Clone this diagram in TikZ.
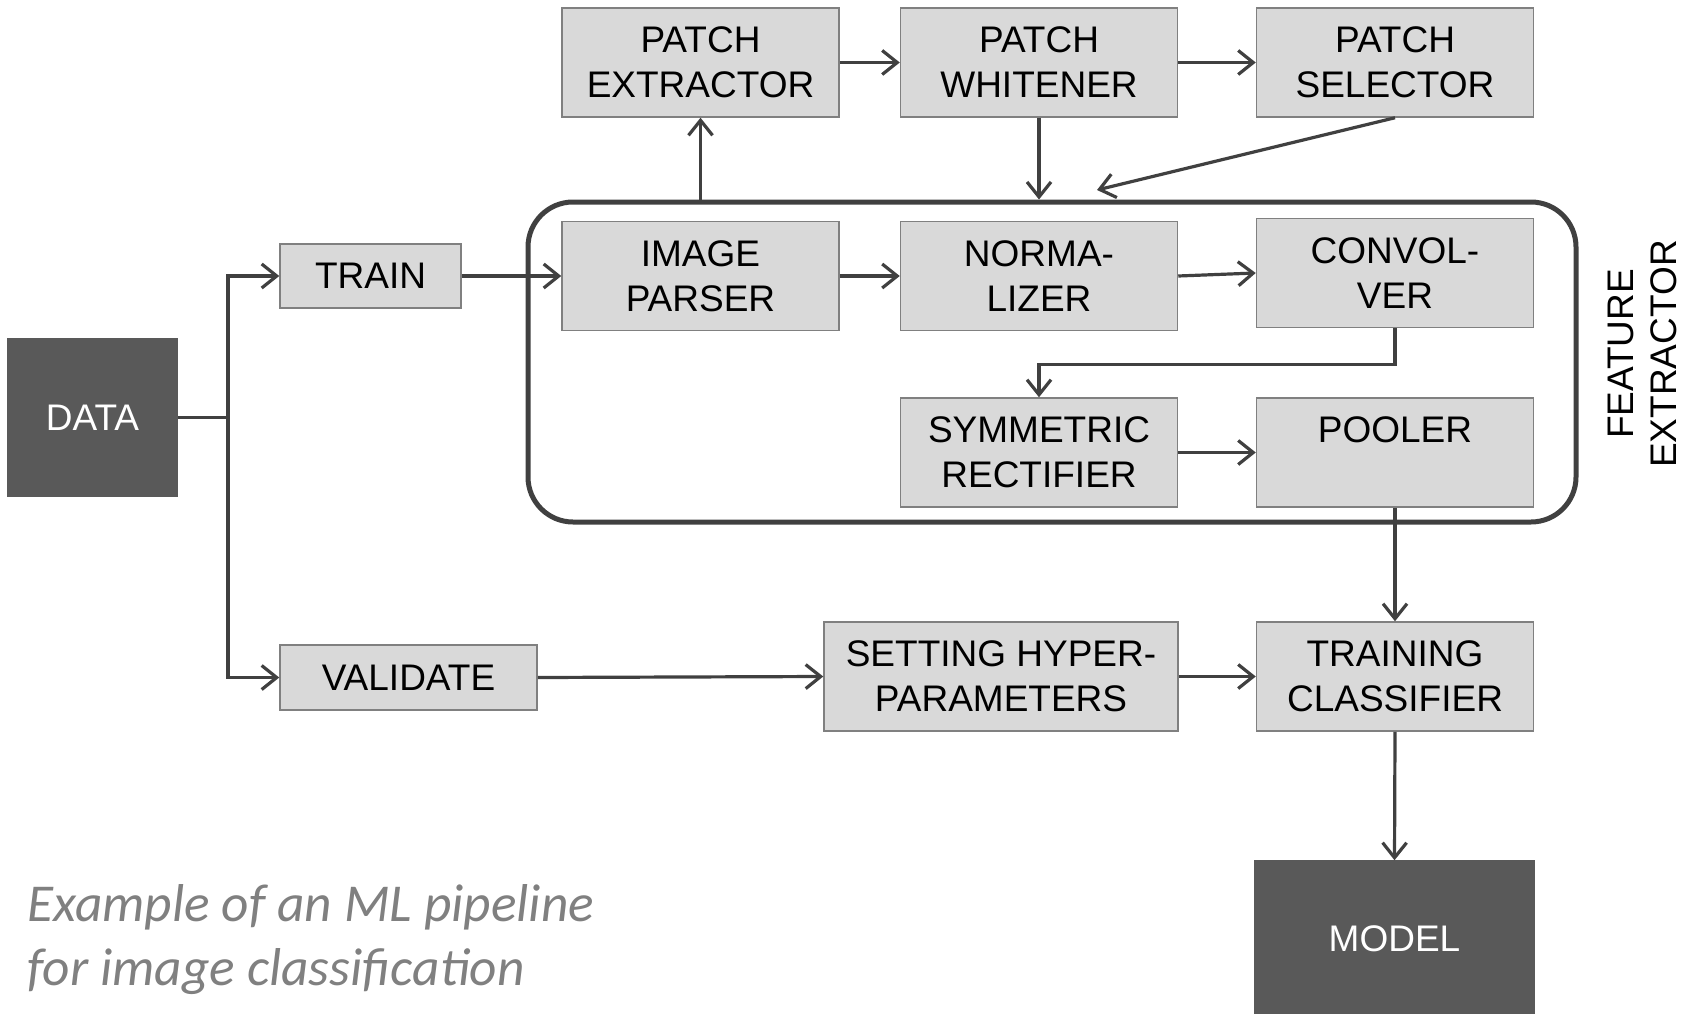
\documentclass[tikz,border=0pt]{standalone}
\usepackage{fontspec}
\setmainfont{Liberation Sans}
\newfontfamily\notefont{Carlito}
\usepackage{tikz}
\usetikzlibrary{arrows.meta, positioning}
\definecolor{boxgray}{RGB}{217,217,217}
\definecolor{edgegray}{RGB}{128,128,128}
\definecolor{darkbox}{RGB}{89,89,89}
\definecolor{wiregray}{RGB}{64,64,64}
\definecolor{notegray}{RGB}{128,128,128}

\begin{document}
\begin{tikzpicture}[
        x=1pt, y=-1pt,
        block/.style={rectangle, draw=edgegray, line width=1.5pt, fill=boxgray, align=center, inner sep=0pt, font=\fontsize{37}{45}\selectfont, minimum width=277pt, minimum height=109pt},
        dark_block/.style={block, fill=darkbox, draw=darkbox, text=white},
        group/.style={rectangle, draw=wiregray, line width=5pt, rounded corners=45pt, minimum width=1048pt, minimum height=320pt},
        line/.style={draw=wiregray, line width=3.2pt, -{Straight Barb[length=15pt, width=24pt]}},
        wire/.style={draw=wiregray, line width=3.2pt}
    ]
    \useasboundingbox (0,0) rectangle (1694,1014);

    % feature extractor
    \node[group] (fe_group) at (1052,362) {};
    \node[block] (img_parser) at (700.5,276) {IMAGE\\PARSER};
    \node[block] (normalizer) at (1039,276) {NORMA-\\LIZER};
    \node[block] (convolver) at (1395,273) {CONVOL-\\VER};
    \node[block] (rectifier) at (1039,452.5) {SYMMETRIC\\RECTIFIER};
    \node[block] (pooler) at (1395,452.5) {POOLER\\\phantom{X}};
    \node[rotate=90, align=center, font=\fontsize{37}{43}\selectfont] (fe_label) at (1642,354) {FEATURE\\EXTRACTOR};

    % patches
    \node[block] (patch_extr) at (700.5,62.5) {PATCH\\EXTRACTOR};
    \node[block] (patch_white) at (1039,62.5) {PATCH\\WHITENER};
    \node[block] (patch_sel) at (1395,62.5) {PATCH\\SELECTOR};

    % data split
    \node[dark_block, minimum width=169pt, minimum height=157pt] (data) at (92.5,417.5) {DATA};
    \node[block, minimum width=181pt, minimum height=64pt] (train) at (370.5,276) {TRAIN};
    \node[block, minimum width=257pt, minimum height=65pt] (validate) at (408.5,677.5) {VALIDATE};

    % classifier
    \node[block, minimum width=354pt] (hyper) at (1001,676.5) {SETTING HYPER-\\PARAMETERS};
    \node[block] (classifier) at (1395,676.5) {TRAINING\\CLASSIFIER};
    \node[dark_block, minimum width=279pt, minimum height=156pt] (model) at (1394.5,939) {MODEL};

    \node[anchor=base west, inner sep=0pt, text=notegray, font=\notefont\itshape\fontsize{53.3}{64}\selectfont] (note_a) at (27,921) {Example of an ML pipeline};
    \node[anchor=base west, inner sep=0pt, text=notegray, font=\notefont\itshape\fontsize{53.3}{64}\selectfont] (note_b) at (27,985) {for image classification};

    % connections
    \coordinate (split) at (228,417.5);
    \coordinate (sel_end) at (1097,190);
    \path [wire] (data.east) -- (split);
    \path [line] (split) |- (train.west);
    \path [line] (split) |- (validate.west);
    \path [line] (train.east) -- (img_parser.west);
    \path [line] (fe_group.north -| img_parser) -- (patch_extr.south);
    \path [line] (patch_extr.east) -- (patch_white.west);
    \path [line] (patch_white.east) -- (patch_sel.west);
    \path [line] (patch_white.south) -- (fe_group.north -| patch_white);
    \path [line] (patch_sel.south) -- (sel_end);
    \path [line] (img_parser.east) -- (normalizer.west);
    \path [line] (normalizer.east) -- (convolver.west);
    \path [line] (convolver.south) -- ++(0,36) -| (rectifier.north);
    \path [line] (rectifier.east) -- (pooler.west);
    \path [line] (pooler.south) -- (classifier.north);
    \path [line] (validate.east) -- (hyper.west);
    \path [line] (hyper.east) -- (classifier.west);
    \path [line] (classifier.south) -- (model.north);

\end{tikzpicture}
\end{document}
